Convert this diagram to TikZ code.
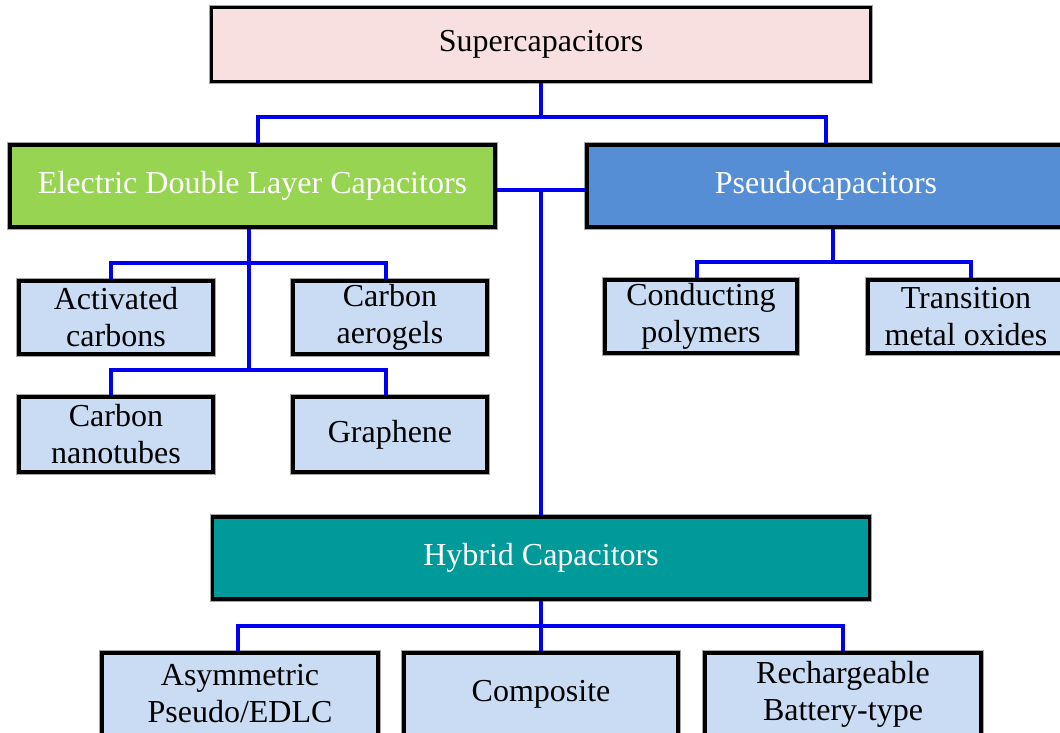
\documentclass[tikz,border=0pt]{standalone}
\usepackage{fontspec}
\setmainfont{Liberation Serif}
\definecolor{pinkfill}{HTML}{F8E0E0}
\definecolor{greenfill}{HTML}{96D452}
\definecolor{bluefill}{HTML}{558ED5}
\definecolor{tealfill}{HTML}{009A9A}
\definecolor{leaffill}{HTML}{C9DCF3}
\definecolor{wire}{HTML}{0000F0}
\begin{document}
\begin{tikzpicture}[x=1pt,y=-1pt,
  box/.style={draw=black, line width=3.4pt, rectangle, inner sep=0pt, align=center,
    preaction={draw=black!35, line width=5.5pt},
    font=\fontsize{32}{37}\selectfont},
  leaf/.style={box, fill=leaffill, text=black},
  conn/.style={draw=wire, line width=3.8pt}]
\clip (0,0) rectangle (1060,733);
\fill[white] (0,0) rectangle (1060,733);
% nodes
\node[box, fill=pinkfill, minimum width=659pt, minimum height=74pt] (sup) at (541,44.5) {Supercapacitors};
\node[box, fill=greenfill, text=white, minimum width=485pt, minimum height=82pt] (edlc) at (252.5,186) {Electric Double Layer Capacitors};
\node[box, fill=bluefill, text=white, minimum width=478pt, minimum height=82pt] (pseudo) at (826,186) {Pseudocapacitors};
\node[leaf, minimum width=194pt, minimum height=73pt] (ac) at (116,317.5) {Activated\\carbons};
\node[leaf, minimum width=194pt, minimum height=73pt] (ca) at (390,317.5) {Carbon\\aerogels};
\node[leaf, minimum width=194pt, minimum height=75pt] (cnt) at (116,434.5) {Carbon\\nanotubes};
\node[leaf, minimum width=194pt, minimum height=75pt] (gr) at (390,434.5) {Graphene};
\node[leaf, minimum width=192pt, minimum height=73pt] (cp) at (701,316.5) {Conducting\\polymers};
\node[leaf, minimum width=196pt, minimum height=73pt] (tmo) at (966,316.5) {Transition\\metal oxides};
\node[box, fill=tealfill, text=white, minimum width=657pt, minimum height=82pt] (hyb) at (541,558) {Hybrid Capacitors};
\node[leaf, minimum width=276pt, minimum height=82pt] (asym) at (240,694) {Asymmetric\\Pseudo/EDLC};
\node[leaf, minimum width=274pt, minimum height=82pt] (comp) at (541,694) {Composite};
\node[leaf, minimum width=276pt, minimum height=82pt] (rech) at (843,694) {Rechargeable\\Battery-type};
% branch points
\coordinate (b1) at (541,117);
\coordinate (m1) at (541,190);
\coordinate (e1) at (249,263);
\coordinate (e2) at (249,370);
\coordinate (p1) at (833,262);
\coordinate (h1) at (541,626);
% connectors
\draw[conn] (sup.south -| b1) -- (b1);
\draw[conn] ([xshift=5.5pt]edlc.north) |- (b1) -| (pseudo.north);
\draw[conn] (edlc.east |- m1) -- (pseudo.west |- m1);
\draw[conn] (m1) -- (hyb.north);
\draw[conn] (edlc.south -| e1) -- (e2);
\draw[conn] ([xshift=-5pt]ac.north) |- (e1) -| ([xshift=-4pt]ca.north);
\draw[conn] ([xshift=-5pt]cnt.north) |- (e2) -| ([xshift=-4pt]gr.north);
\draw[conn] (pseudo.south -| p1) -- (p1);
\draw[conn] ([xshift=-4pt]cp.north) |- (p1) -| ([xshift=5pt]tmo.north);
\draw[conn] (hyb.south) -- (comp.north);
\draw[conn] ([xshift=-2pt]asym.north) |- (h1) -| (rech.north);
\end{tikzpicture}
\end{document}
